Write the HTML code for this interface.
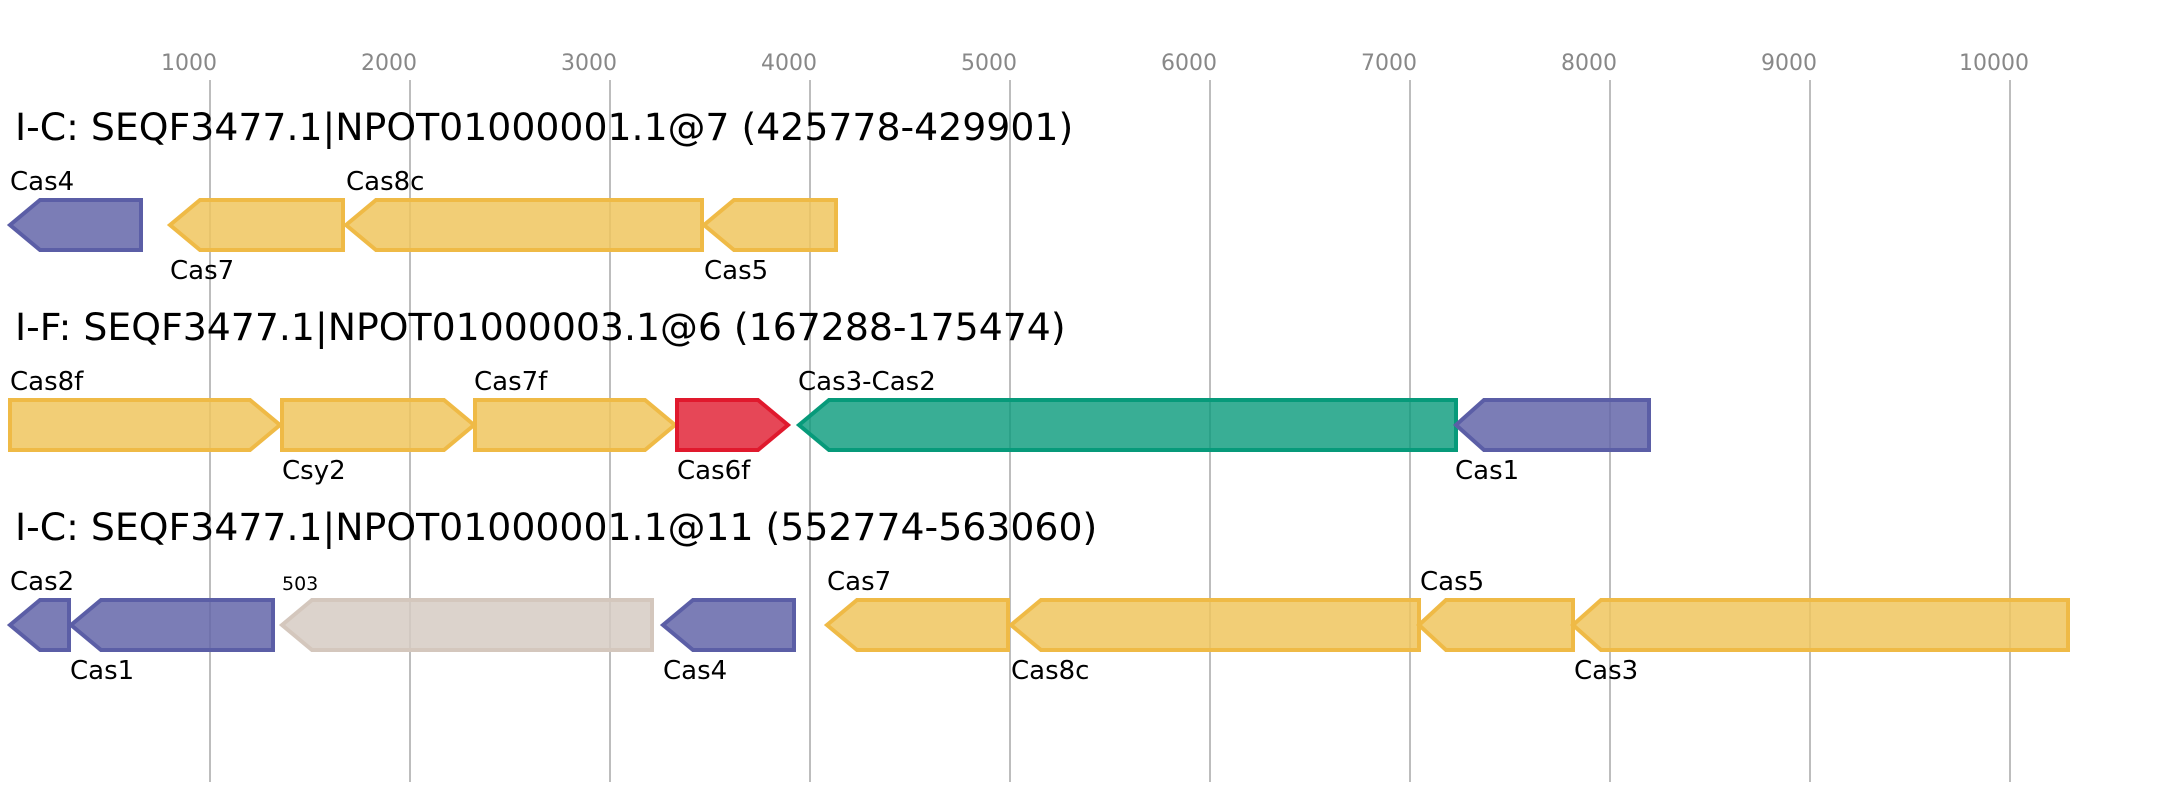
<!DOCTYPE html>
<html><head><meta charset="utf-8"><style>
html,body{margin:0;padding:0;background:#fff;}
svg{display:block;}
text{font-family:"DejaVu Sans","Liberation Sans",sans-serif;}
</style></head><body>
<svg width="2157" height="800" viewBox="0 0 2157 800" xmlns="http://www.w3.org/2000/svg">
<g stroke="#bdbdbd" stroke-width="2">
<line x1="210" y1="80" x2="210" y2="782"/><line x1="410" y1="80" x2="410" y2="782"/>
<line x1="610" y1="80" x2="610" y2="782"/><line x1="810" y1="80" x2="810" y2="782"/>
<line x1="1010" y1="80" x2="1010" y2="782"/><line x1="1210" y1="80" x2="1210" y2="782"/>
<line x1="1410" y1="80" x2="1410" y2="782"/><line x1="1610" y1="80" x2="1610" y2="782"/>
<line x1="1810" y1="80" x2="1810" y2="782"/><line x1="2010" y1="80" x2="2010" y2="782"/>
</g>
<g fill="#888" font-size="22" text-anchor="middle">
<text x="189" y="70">1000</text><text x="389" y="70">2000</text><text x="589" y="70">3000</text>
<text x="789" y="70">4000</text><text x="989" y="70">5000</text><text x="1189" y="70">6000</text>
<text x="1389" y="70">7000</text><text x="1589" y="70">8000</text><text x="1789" y="70">9000</text>
<text x="1994" y="70">10000</text>
</g>
<g font-size="37.8" fill="#000">
<text x="15" y="140">I-C: SEQF3477.1|NPOT01000001.1@7 (425778-429901)</text>
<text x="15" y="340">I-F: SEQF3477.1|NPOT01000003.1@6 (167288-175474)</text>
<text x="15" y="540">I-C: SEQF3477.1|NPOT01000001.1@11 (552774-563060)</text>
</g>
<g stroke-width="4" fill-opacity="0.85">
<polygon points="10,225 40,200 141,200 141,250 40,250" fill="#6466a9" stroke="#5b5ea6"/>
<polygon points="170,225 200,200 343,200 343,250 200,250" fill="#f0c65e" stroke="#efba46"/>
<polygon points="346,225 376,200 702,200 702,250 376,250" fill="#f0c65e" stroke="#efba46"/>
<polygon points="704,225 734,200 836,200 836,250 734,250" fill="#f0c65e" stroke="#efba46"/>
<polygon points="10,400 250,400 280,425 250,450 10,450" fill="#f0c65e" stroke="#efba46"/>
<polygon points="282,400 444,400 474,425 444,450 282,450" fill="#f0c65e" stroke="#efba46"/>
<polygon points="475,400 645,400 675,425 645,450 475,450" fill="#f0c65e" stroke="#efba46"/>
<polygon points="677,400 758,400 788,425 758,450 677,450" fill="#e0192d" stroke="#e0192d" fill-opacity="0.8"/>
<polygon points="799,425 829,400 1456,400 1456,450 829,450" fill="#079a7a" stroke="#079a7a" fill-opacity="0.8"/>
<polygon points="1456,425 1484,400 1649,400 1649,450 1484,450" fill="#6466a9" stroke="#5b5ea6"/>
<polygon points="10,625 40,600 69,600 69,650 40,650" fill="#6466a9" stroke="#5b5ea6"/>
<polygon points="71,625 101,600 273,600 273,650 101,650" fill="#6466a9" stroke="#5b5ea6"/>
<polygon points="282,625 312,600 652,600 652,650 312,650" fill="#d6cbc3" stroke="#d4c7bd"/>
<polygon points="663,625 693,600 794,600 794,650 693,650" fill="#6466a9" stroke="#5b5ea6"/>
<polygon points="827,625 857,600 1008,600 1008,650 857,650" fill="#f0c65e" stroke="#efba46"/>
<polygon points="1011,625 1041,600 1419,600 1419,650 1041,650" fill="#f0c65e" stroke="#efba46"/>
<polygon points="1419,625 1446,600 1573,600 1573,650 1446,650" fill="#f0c65e" stroke="#efba46"/>
<polygon points="1573,625 1601,600 2068,600 2068,650 1601,650" fill="#f0c65e" stroke="#efba46"/>
</g>
<g font-size="26" fill="#000">
<text x="10" y="190">Cas4</text><text x="170" y="279">Cas7</text>
<text x="346" y="190">Cas8c</text><text x="704" y="279">Cas5</text>
<text x="10" y="390">Cas8f</text><text x="282" y="479">Csy2</text>
<text x="474" y="390">Cas7f</text><text x="677" y="479">Cas6f</text>
<text x="798" y="390">Cas3-Cas2</text><text x="1455" y="479">Cas1</text>
<text x="10" y="590">Cas2</text><text x="70" y="679">Cas1</text>
<text x="282" y="590" font-size="19">503</text><text x="663" y="679">Cas4</text>
<text x="827" y="590">Cas7</text><text x="1011" y="679">Cas8c</text>
<text x="1420" y="590">Cas5</text><text x="1574" y="679">Cas3</text>
</g>
</svg>
</body></html>
